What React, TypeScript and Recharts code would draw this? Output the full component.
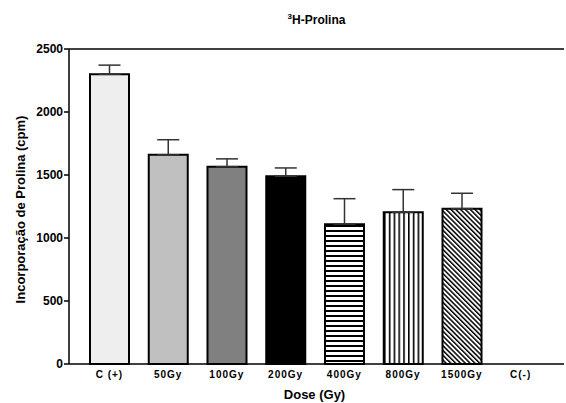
import { Bar, BarChart, Cell, ErrorBar, ReferenceLine, XAxis, YAxis } from "recharts";

const doses = ["C (+)", "50Gy", "100Gy", "200Gy", "400Gy", "800Gy", "1500Gy", "C(-)"];
const means = [2300, 1660, 1566, 1490, 1110, 1204, 1233, 0];
const sems = [72, 120, 62, 66, 202, 180, 122, 0];
const yTicks = [0, 500, 1000, 1500, 2000, 2500];

const FILLS = [
  "#eeeeee",
  "#c0c0c0",
  "#808080",
  "#000000",
  "url(#hstripe)",
  "url(#vstripe)",
  "url(#dstripe)",
  "#ffffff",
];

const data = doses.map((dose, i) => ({ dose, mean: means[i], err: [0, sems[i]] }));

const FONT = "'Liberation Sans', Arial, sans-serif";

// rotated y-axis title, centred on the plot height
function YTitle({ viewBox }: any) {
  const cx = 20;
  const cy = viewBox.y + viewBox.height / 2 + 3;
  return (
    <text
      x={cx}
      y={cy}
      transform={`rotate(-90, ${cx}, ${cy})`}
      textAnchor="middle"
      dominantBaseline="central"
      fill="#000"
      fontSize={13}
      fontWeight="bold"
      fontFamily={FONT}
    >
      Incorporação de Prolina (cpm)
    </text>
  );
}

export default function App() {
  return (
    <div style={{ position: "absolute", left: 0, top: 0, width: 566, height: 403, background: "#fff", fontFamily: FONT }}>
      <svg width={0} height={0} style={{ position: "absolute" }}>
        <defs>
          <pattern id="hstripe" patternUnits="userSpaceOnUse" width={6} height={5}>
            <rect width={6} height={5} fill="#fff" />
            <rect y={0} width={6} height={2} fill="#000" />
          </pattern>
          <pattern id="vstripe" patternUnits="userSpaceOnUse" width={4.8} height={6}>
            <rect width={4.8} height={6} fill="#fff" />
            <rect x={0} width={1.6} height={6} fill="#000" />
          </pattern>
          <pattern id="dstripe" patternUnits="userSpaceOnUse" width={3.4} height={6} patternTransform="rotate(-45)">
            <rect width={3.4} height={6} fill="#fff" />
            <rect x={0} width={1.5} height={6} fill="#000" />
          </pattern>
        </defs>
      </svg>
      <div
        style={{
          position: "absolute",
          top: 12,
          left: 69,
          width: 495,
          textAlign: "center",
          fontSize: 12,
          fontWeight: "bold",
        }}
      >
        <sup style={{ fontSize: 8 }}>3</sup>H-Prolina
      </div>
      <BarChart
        width={566}
        height={403}
        data={data}
        margin={{ top: 49, right: 2, bottom: 0, left: 0 }}
        style={{ fontFamily: FONT }}
      >
        <XAxis
          dataKey="dose"
          height={39}
          padding={{ left: 11, right: 14 }}
          tickLine={false}
          tickSize={0}
          tickMargin={7}
          axisLine={{ stroke: "#000", strokeWidth: 1.5 }}
          tick={{ fill: "#000", fontSize: 10, fontWeight: "bold", letterSpacing: 1 }}
          interval={0}
          label={{
            value: "Dose (Gy)",
            position: "insideBottom",
            offset: 4,
            dx: -2,
            fill: "#000",
            fontSize: 13,
            fontWeight: "bold",
          }}
        />
        <YAxis
          width={69}
          domain={[0, 2500]}
          ticks={yTicks}
          tickSize={5}
          tickMargin={1}
          axisLine={{ stroke: "#000", strokeWidth: 1.5 }}
          tickLine={{ stroke: "#000", strokeWidth: 1.5 }}
          tick={{ fill: "#000", fontSize: 12, fontWeight: "bold" }}
          label={{ content: YTitle }}
        />
        <YAxis
          yAxisId="right"
          orientation="right"
          width={0}
          tick={false}
          tickLine={false}
          axisLine={{ stroke: "#000", strokeWidth: 1.5 }}
        />
        <ReferenceLine y={2500} stroke="#000" strokeWidth={1.5} />
        <Bar dataKey="mean" barSize={39} stroke="#000" strokeWidth={2} isAnimationActive={false}>
          {data.map((_, i) => (
            <Cell key={i} fill={FILLS[i]} />
          ))}
          <ErrorBar dataKey="err" direction="y" width={11} stroke="#333" strokeWidth={1.5} />
        </Bar>
      </BarChart>
    </div>
  );
}
